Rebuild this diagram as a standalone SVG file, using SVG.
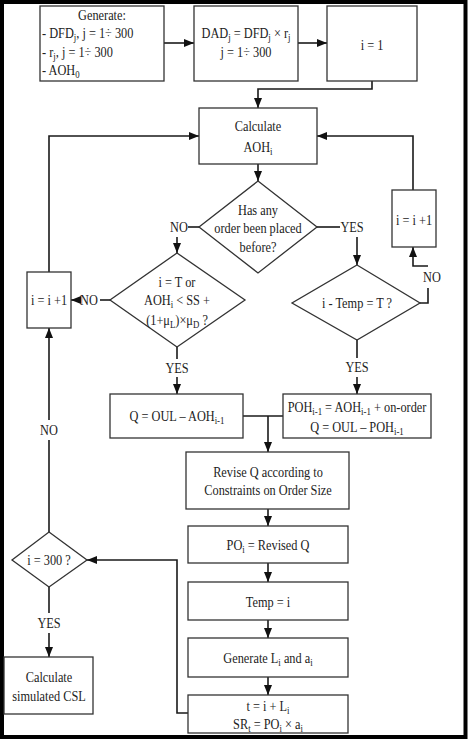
<svg xmlns="http://www.w3.org/2000/svg" width="473" height="743" viewBox="0 0 473 743">
<style>
.b{fill:#fff;stroke:#333;stroke-width:1.3}
.c{fill:none;stroke:#1a1a1a;stroke-width:1.6}
text{font-family:"Liberation Serif","Times New Roman",serif;font-size:14px;fill:#222;text-anchor:middle}
.s{text-anchor:start}
.sb{font-size:10px}
</style>
<defs>
<marker id="a" markerUnits="userSpaceOnUse" markerWidth="10" markerHeight="10" viewBox="0 0 10 10" refX="10" refY="5" orient="auto">
<path d="M0,1 L10,5 L0,9 z" fill="#111"/>
</marker>
</defs>
<rect width="473" height="743" fill="#fff"/>
<rect x="2" y="2" width="463.5" height="735" fill="none" stroke="#000" stroke-width="4"/>

<g id="connectors">
<path class="c" d="M164,43 H194" marker-end="url(#a)"/>
<path class="c" d="M298,43 H327" marker-end="url(#a)"/>
<path class="c" d="M372,81 V89 H258 V108" marker-end="url(#a)"/>
<path class="c" d="M258,164 V181" marker-end="url(#a)"/>
<path class="c" d="M49,272 V136 H199" marker-end="url(#a)"/>
<path class="c" d="M413,190 V136 H317" marker-end="url(#a)"/>
<path class="c" d="M199,227 H188"/>
<path class="c" d="M177,237 V253" marker-end="url(#a)"/>
<path class="c" d="M317,227 H340"/>
<path class="c" d="M357,237 V265" marker-end="url(#a)"/>
<path class="c" d="M110,300 H100"/>
<path class="c" d="M79,300 H71" marker-end="url(#a)"/>
<path class="c" d="M177,347 V359"/>
<path class="c" d="M177,377 V394" marker-end="url(#a)"/>
<path class="c" d="M357,340 V358"/>
<path class="c" d="M357,377 V394" marker-end="url(#a)"/>
<path class="c" d="M420,303 H428 V288"/>
<path class="c" d="M428,266 H413 V247" marker-end="url(#a)"/>
<path class="c" d="M243,416 H283"/>
<path class="c" d="M268,416 V452" marker-end="url(#a)"/>
<path class="c" d="M268,509 V526" marker-end="url(#a)"/>
<path class="c" d="M268,563 V582" marker-end="url(#a)"/>
<path class="c" d="M268,620 V638" marker-end="url(#a)"/>
<path class="c" d="M268,677 V695" marker-end="url(#a)"/>
<path class="c" d="M188,713 H177 V560 H87" marker-end="url(#a)"/>
<path class="c" d="M49,532 V440"/>
<path class="c" d="M49,420 V328" marker-end="url(#a)"/>
<path class="c" d="M49,587 V613"/>
<path class="c" d="M49,633 V657" marker-end="url(#a)"/>
</g>

<g id="labels">
<text transform="translate(179,232) scale(.88,1)">NO</text>
<text transform="translate(352,232) scale(.88,1)">YES</text>
<text transform="translate(89,305) scale(.88,1)">NO</text>
<text transform="translate(432,282) scale(.88,1)">NO</text>
<text transform="translate(177,373) scale(.88,1)">YES</text>
<text transform="translate(357,372) scale(.88,1)">YES</text>
<text transform="translate(49,435) scale(.88,1)">NO</text>
<text transform="translate(49,628) scale(.88,1)">YES</text>
</g>

<g id="generate">
<rect class="b" x="40" y="6" width="124" height="75"/>
<text transform="translate(102,20) scale(.88,1)">Generate:</text>
<text class="s" transform="translate(42,38) scale(.88,1)">- DFD<tspan class="sb" dy="3">j</tspan><tspan dy="-3">, j = 1÷ 300</tspan></text>
<text class="s" transform="translate(42,57) scale(.88,1)">- r<tspan class="sb" dy="3">j</tspan><tspan dy="-3">, j = 1÷ 300</tspan></text>
<text class="s" transform="translate(42,75) scale(.88,1)">- AOH<tspan class="sb" dy="3">0</tspan></text>
</g>

<g id="dad">
<rect class="b" x="194" y="6" width="104" height="75"/>
<text transform="translate(246,38) scale(.88,1)">DAD<tspan class="sb" dy="3">j</tspan><tspan dy="-3"> = DFD</tspan><tspan class="sb" dy="3">j</tspan><tspan dy="-3"> × r</tspan><tspan class="sb" dy="3">j</tspan></text>
<text transform="translate(246,57) scale(.88,1)">j = 1÷ 300</text>
</g>

<g id="init">
<rect class="b" x="327" y="6" width="90" height="75"/>
<text transform="translate(372,50) scale(.88,1)">i = 1</text>
</g>

<g id="calc">
<rect class="b" x="199" y="108" width="118" height="56"/>
<text transform="translate(258,131) scale(.88,1)">Calculate</text>
<text transform="translate(258,152) scale(.88,1)">AOH<tspan class="sb" dy="3">i</tspan></text>
</g>

<g id="placed">
<polygon class="b" points="258,181 317,227 258,273 199,227"/>
<text transform="translate(258,215) scale(.88,1)">Has any</text>
<text transform="translate(258,233) scale(.88,1)">order been placed</text>
<text transform="translate(258,252) scale(.88,1)">before?</text>
</g>

<g id="incright">
<rect class="b" x="392" y="190" width="44" height="57"/>
<text transform="translate(414,225) scale(.88,1)">i = i +1</text>
</g>

<g id="reorder">
<polygon class="b" points="177,253 245,300 177,347 110,300"/>
<text transform="translate(177,287) scale(.88,1)">i = T or</text>
<text transform="translate(177,305) scale(.88,1)">AOH<tspan class="sb" dy="3">i</tspan><tspan dy="-3"> &lt; SS +</tspan></text>
<text transform="translate(177,325) scale(.88,1)">(1+μ<tspan class="sb" dy="3">L</tspan><tspan dy="-3">)×μ</tspan><tspan class="sb" dy="3">D</tspan><tspan dy="-3"> ?</tspan></text>
</g>

<g id="period">
<polygon class="b" points="357,265 420,303 357,340 292,303"/>
<text transform="translate(357,308) scale(.88,1)">i - Temp = T ?</text>
</g>

<g id="incleft">
<rect class="b" x="27" y="272" width="44" height="56"/>
<text transform="translate(49,305) scale(.88,1)">i = i +1</text>
</g>

<g id="qa">
<rect class="b" x="110" y="394" width="133" height="44"/>
<text transform="translate(177,421) scale(.88,1)">Q = OUL – AOH<tspan class="sb" dy="3">i-1</tspan></text>
</g>

<g id="qp">
<rect class="b" x="283" y="394" width="148" height="44"/>
<text transform="translate(357,412) scale(.88,1)">POH<tspan class="sb" dy="3">i-1</tspan><tspan dy="-3"> = AOH</tspan><tspan class="sb" dy="3">i-1</tspan><tspan dy="-3"> + on-order</tspan></text>
<text transform="translate(357,432) scale(.88,1)">Q = OUL – POH<tspan class="sb" dy="3">i-1</tspan></text>
</g>

<g id="revise">
<rect class="b" x="186" y="452" width="163" height="57"/>
<text transform="translate(268,477) scale(.88,1)">Revise Q according to</text>
<text transform="translate(268,495) scale(.88,1)">Constraints on Order Size</text>
</g>

<g id="po">
<rect class="b" x="188" y="526" width="160" height="37"/>
<text transform="translate(268,550) scale(.88,1)">PO<tspan class="sb" dy="3">i</tspan><tspan dy="-3"> = Revised Q</tspan></text>
</g>

<g id="temp">
<rect class="b" x="188" y="582" width="160" height="38"/>
<text transform="translate(268,607) scale(.88,1)">Temp = i</text>
</g>

<g id="genla">
<rect class="b" x="188" y="638" width="160" height="39"/>
<text transform="translate(268,663) scale(.88,1)">Generate L<tspan class="sb" dy="3">i</tspan><tspan dy="-3"> and a</tspan><tspan class="sb" dy="3">i</tspan></text>
</g>

<g id="receipt">
<rect class="b" x="188" y="695" width="160" height="38"/>
<text transform="translate(268,711) scale(.88,1)">t = i + L<tspan class="sb" dy="3">i</tspan></text>
<text transform="translate(268,729) scale(.88,1)">SR<tspan class="sb" dy="3">t</tspan><tspan dy="-3"> = PO</tspan><tspan class="sb" dy="3">i</tspan><tspan dy="-3"> × a</tspan><tspan class="sb" dy="3">i</tspan></text>
</g>

<g id="end">
<polygon class="b" points="49,532 87,560 49,587 12,560"/>
<text transform="translate(49,565) scale(.88,1)">i = 300 ?</text>
</g>

<g id="csl">
<rect class="b" x="4" y="657" width="89" height="57"/>
<text transform="translate(49,682) scale(.88,1)">Calculate</text>
<text transform="translate(49,701) scale(.88,1)">simulated CSL</text>
</g>
</svg>
